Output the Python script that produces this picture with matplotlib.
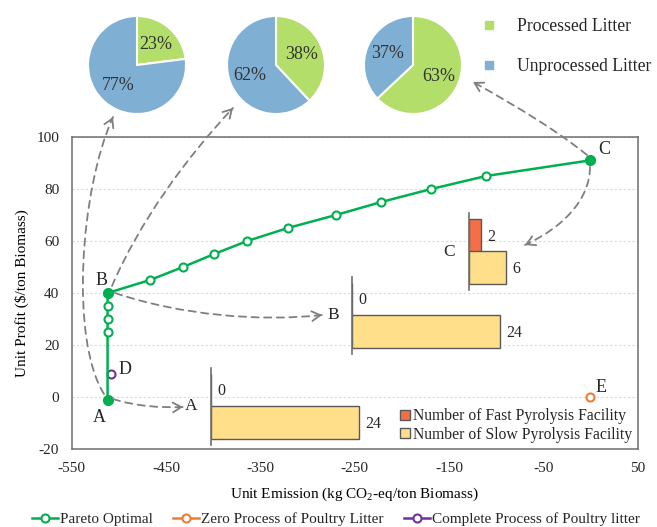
import numpy as np
import matplotlib.pyplot as plt
from matplotlib.patches import FancyArrowPatch, Patch
from matplotlib.lines import Line2D
from matplotlib.path import Path

plt.rcParams['font.family'] = ['Liberation Serif', 'DejaVu Serif']
plt.rcParams['text.color'] = '#262626'
plt.rcParams['axes.unicode_minus'] = False
plt.rcParams['mathtext.fontset'] = 'custom'
plt.rcParams['mathtext.rm'] = 'Liberation Serif'

W, H = 657, 527

# Pareto front (emission, profit)
pareto_x = [-512, -512, -512, -512, -512, -467, -432, -399, -364, -321,
            -270, -222, -169, -111, -1]
pareto_y = [-1, 25, 30, 35, 40, 45, 50, 55, 60, 65, 70, 75, 80, 85, 91]
key_points = {'A': 0, 'B': 4, 'C': 14}

zero_x, zero_y = [-1], [0]           # E
complete_x, complete_y = [-508], [9]  # D

# processed share of litter at A, B, C
pie_labels = ['Processed Litter', 'Unprocessed Litter']
processed = [23, 38, 63]
unprocessed = [77, 62, 37]

# facilities at A, B, C
fac_labels = ['Number of Fast Pyrolysis Facility', 'Number of Slow Pyrolysis Facility']
fast_counts = [0, 0, 2]
slow_counts = [24, 24, 6]

green = '#00b050'
orange = '#ed7d31'
purple = '#7030a0'
pie_green = '#b3de69'
pie_blue = '#7fafd3'
bar_red = '#f36f45'
bar_yellow = '#ffdf8a'
grey = '#7f7f7f'


def fx(px):
    return px / W


def fy(py):
    return 1 - py / H


fig = plt.figure(figsize=(W / 100, H / 100), dpi=100)

# ---- main scatter/line axes ----
ax = fig.add_axes([fx(71.7), fy(449), fx(638 - 71.7), (449 - 137) / H])
mk = dict(marker='o', ms=5.8, mfc='white', mew=1.5, lw=1.8)
ax.plot(pareto_x, pareto_y, color=green, mec=green, label='Pareto Optimal', zorder=3, **mk)
idx = list(key_points.values())
ax.plot([pareto_x[i] for i in idx], [pareto_y[i] for i in idx], 'o',
        color=green, ms=7, zorder=4)
ax.plot(zero_x, zero_y, color=orange, mec=orange,
        label='Zero Process of Poultry Litter', **mk)
ax.plot(complete_x, complete_y, color=purple, mec=purple,
        label='Complete Process of Poultry litter', **mk)

ax.set_xlim(-550, 50)
ax.set_ylim(-20, 100)
ax.set_xticks(np.arange(-550, 51, 100))
ax.set_yticks(np.arange(-20, 101, 20))
ax.tick_params(length=0, labelsize=11, pad=9, colors='#262626')
ax.grid(axis='y', color='#d9d9d9', ls=(0, (2, 2)), lw=0.8)
ax.set_axisbelow(True)
for s in ax.spines.values():
    s.set_color('#6e6e6e')
    s.set_linewidth(1.1)
ax.set_xlabel('Unit Emission (kg CO$_2$-eq/ton Biomass)', fontsize=11, labelpad=8)
ax.set_ylabel('Unit Profit (\\$/ton Biomass)', fontsize=11, labelpad=5)

lab = dict(fontsize=13, textcoords='offset points', ha='center', va='center')
ax.annotate('A', (pareto_x[0], pareto_y[0]), xytext=(-6, -13), **lab)
ax.annotate('B', (pareto_x[4], pareto_y[4]), xytext=(-4, 9), **lab)
ax.annotate('C', (pareto_x[-1], pareto_y[-1]), xytext=(10, 8), **lab)
ax.annotate('D', (complete_x[0], complete_y[0]), xytext=(10, 3), **lab)
ax.annotate('E', (zero_x[0], zero_y[0]), xytext=(8, 7), **lab)

bar_handles = [Patch(fc=bar_red, ec='#595959', lw=1), Patch(fc=bar_yellow, ec='#595959', lw=1)]
ax.legend(bar_handles, fac_labels, loc='lower right', fontsize=11.3, frameon=False,
          handlelength=0.65, handleheight=0.65, handletextpad=0.15, labelspacing=0.15,
          borderaxespad=0.2, borderpad=0.2)

fig.legend(handles=ax.get_lines()[:1] + ax.get_lines()[2:], loc='center',
           bbox_to_anchor=(fx(336), fy(519)), ncol=3, frameon=False, fontsize=11,
           handlelength=1.7, handletextpad=0.15, columnspacing=1.3)

# ---- pies ----
pie_centers = [137, 276, 413]
for cx, p, u in zip(pie_centers, processed, unprocessed):
    pa = fig.add_axes([fx(cx - 50), fy(115), 100 / W, 100 / H])
    pa.pie([p, u], colors=[pie_green, pie_blue], startangle=90, counterclock=False,
           autopct='%.0f%%', pctdistance=0.57,
           wedgeprops=dict(edgecolor='white', linewidth=1.5),
           textprops=dict(fontsize=13, color='#333333'))
    pa.set_xlim(-1.02, 1.02)
    pa.set_ylim(-1.02, 1.02)

pie_handles = [Line2D([], [], ls='none', marker='s', ms=5.5, color=c) for c in (pie_green, pie_blue)]
fig.legend(pie_handles, pie_labels, loc='upper left', bbox_to_anchor=(fx(455), fy(2)),
           frameon=False, fontsize=12.7, handlelength=2, handletextpad=0.6, labelspacing=1.3)

# ---- facility bar insets ----
inset_pos = [(211, 367.7), (352.3, 276.7), (469, 213)]
for name, (lx, ty), nf, ns in zip('ABC', inset_pos, fast_counts, slow_counts):
    bx = fig.add_axes([fx(lx), fy(ty + 77), 170 / W, 77 / H])
    bx.patch.set_alpha(0)
    bx.barh([1, 0], [nf, ns], height=1.0, color=[bar_red, bar_yellow],
            edgecolor='#595959', lw=1)
    bx.set_xlim(0, 170 / 6.15)
    bx.set_ylim(-0.68, 1.68)
    bx.set_xticks([])
    bx.set_yticks([])
    for s in ('top', 'right', 'bottom'):
        bx.spines[s].set_visible(False)
    bx.spines['left'].set_color('#6e6e6e')
    bx.spines['left'].set_linewidth(1.2)
    for yv, v in zip([1, 0], [nf, ns]):
        bx.annotate(str(v), (v, yv), xytext=(4.5, -1), textcoords='offset points',
                    ha='left', va='center', fontsize=11.5)
    bx.annotate(name, (0, 0.5), xytext=(-14, 0), textcoords='offset points',
                ha='center', va='center', fontsize=12.5)


# ---- dashed connector arrows (image pixel coords) ----
def connector(p0, p1, p2, p3):
    verts = [(fx(x), fy(y)) for x, y in (p0, p1, p2, p3)]
    codes = [Path.MOVETO, Path.CURVE4, Path.CURVE4, Path.CURVE4]
    fig.add_artist(FancyArrowPatch(path=Path(verts, codes), arrowstyle='-',
                                   transform=fig.transFigure, color=grey,
                                   lw=1.3, ls=(0, (4, 3))))
    d = np.array(p3, float) - np.array(p2, float)
    d /= np.hypot(*d)
    q = np.array(p3, float) - 4 * d
    fig.add_artist(FancyArrowPatch((fx(q[0]), fy(q[1])), (fx(p3[0]), fy(p3[1])),
                                   arrowstyle='->,head_length=0.6,head_width=0.35',
                                   mutation_scale=10, transform=fig.transFigure,
                                   color=grey, lw=1.3, shrinkA=0, shrinkB=0))


connector((104, 394), (70, 340), (80, 190), (113, 117))
connector((112, 286), (139, 223), (185, 159), (233, 108))
connector((587, 155), (560, 133), (520, 108), (473, 82))
connector((590, 167), (590, 200), (562, 228), (525, 245))
connector((115, 293), (180, 315), (260, 322), (322, 315))
connector((113, 399), (135, 406), (160, 408), (183, 407))

fig.savefig('out.png', dpi=100)
